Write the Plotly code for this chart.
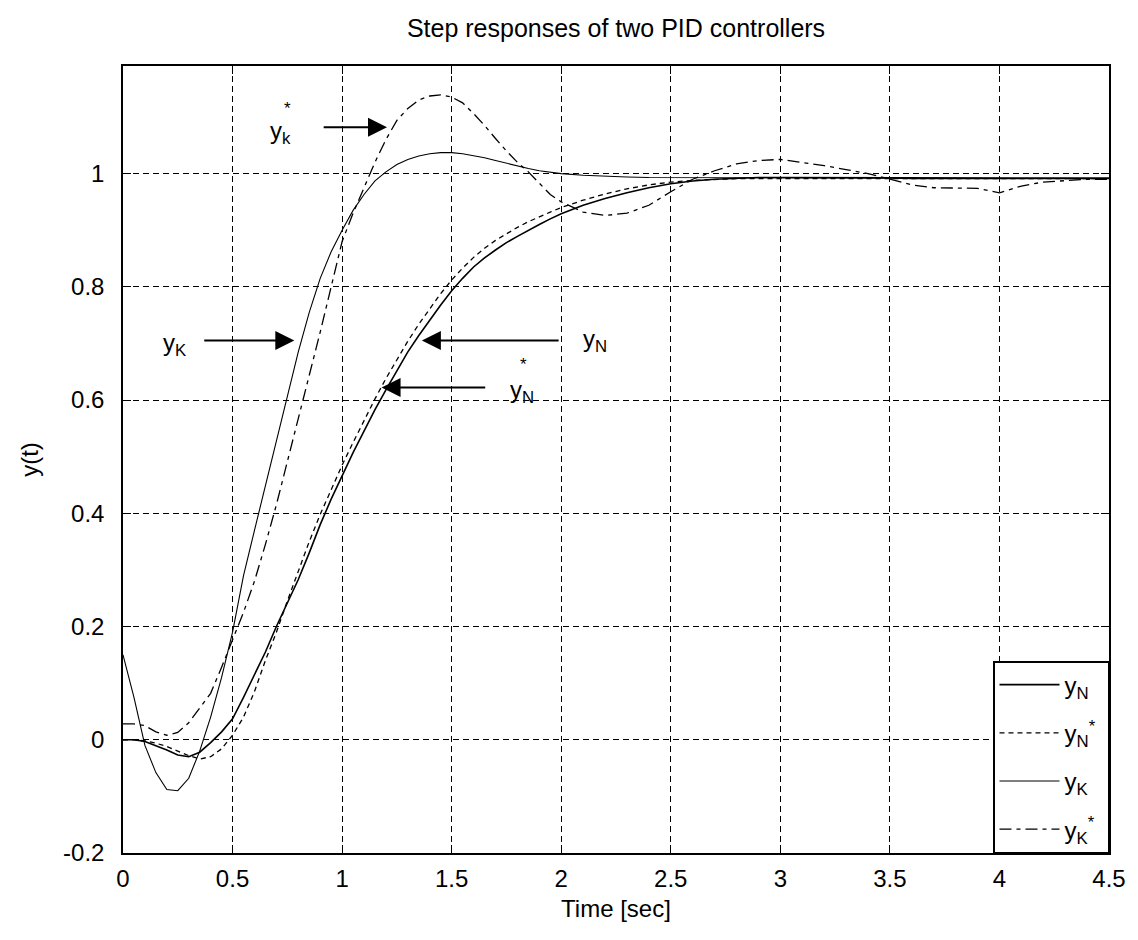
import plotly.graph_objects as go

# ---------------- data ----------------
time = [0, 0.05, 0.1, 0.15, 0.2, 0.25, 0.3, 0.35, 0.4, 0.45,
        0.5, 0.55, 0.6, 0.65, 0.7, 0.75, 0.8, 0.85, 0.9, 0.95,
        1.0, 1.05, 1.1, 1.15, 1.2, 1.25, 1.3, 1.35, 1.4, 1.45,
        1.5, 1.55, 1.6, 1.65, 1.7, 1.75, 1.8, 1.85, 1.9, 1.95,
        2.0, 2.1, 2.2, 2.3, 2.4, 2.5, 2.6, 2.7, 2.8, 2.9,
        3.0, 3.1, 3.2, 3.3, 3.4, 3.5, 3.6, 3.7, 3.8, 3.9,
        4.0, 4.1, 4.2, 4.3, 4.4, 4.5]

y_N = [0.0, 0.0, -0.003, -0.01, -0.018, -0.027, -0.03, -0.022, -0.005, 0.014,
       0.037, 0.075, 0.115, 0.155, 0.2, 0.24, 0.283, 0.33, 0.38, 0.425,
       0.467, 0.507, 0.545, 0.583, 0.618, 0.652, 0.685, 0.714, 0.742, 0.768,
       0.793, 0.815, 0.835, 0.851, 0.865, 0.878, 0.889, 0.9, 0.91, 0.92,
       0.929, 0.944, 0.956, 0.966, 0.975, 0.982, 0.987, 0.99, 0.992, 0.993,
       0.993, 0.993, 0.993, 0.993, 0.993, 0.992, 0.992, 0.992, 0.992, 0.992,
       0.992, 0.992, 0.992, 0.992, 0.992, 0.992]

y_N_star = [0.0, 0.0, -0.002, -0.006, -0.012, -0.02, -0.028, -0.034, -0.03, -0.016,
            0.008, 0.04, 0.085, 0.14, 0.19, 0.245, 0.298, 0.35, 0.398, 0.443,
            0.485, 0.525, 0.564, 0.602, 0.638, 0.672, 0.704, 0.734, 0.762, 0.788,
            0.812, 0.833, 0.852, 0.868, 0.882, 0.894, 0.905, 0.915, 0.924, 0.932,
            0.94, 0.953, 0.964, 0.973, 0.98, 0.985, 0.988, 0.99, 0.991, 0.991,
            0.991, 0.991, 0.991, 0.991, 0.991, 0.991, 0.991, 0.991, 0.991, 0.991,
            0.991, 0.991, 0.991, 0.991, 0.991, 0.991]

y_K = [0.15, 0.075, -0.01, -0.058, -0.088, -0.09, -0.068, -0.02, 0.04, 0.11,
       0.19, 0.29, 0.37, 0.45, 0.53, 0.61, 0.685, 0.755, 0.815, 0.862,
       0.9, 0.935, 0.963, 0.987, 1.003, 1.016, 1.025, 1.031, 1.035, 1.037,
       1.037, 1.035, 1.032, 1.028, 1.023, 1.018, 1.013, 1.009, 1.005, 1.002,
       1.0, 0.997, 0.995, 0.994, 0.993, 0.993, 0.993, 0.993, 0.993, 0.993,
       0.993, 0.993, 0.992, 0.992, 0.992, 0.992, 0.991, 0.991, 0.991, 0.991,
       0.991, 0.991, 0.991, 0.991, 0.991, 0.991]

y_K_star = [0.028, 0.028, 0.025, 0.014, 0.008, 0.013, 0.03, 0.055, 0.082, 0.128,
            0.175, 0.225, 0.28, 0.345, 0.415, 0.49, 0.565, 0.645, 0.72, 0.8,
            0.88, 0.93, 0.975, 1.02, 1.06, 1.094, 1.115, 1.13, 1.137, 1.139,
            1.135, 1.125, 1.106, 1.085, 1.062, 1.04, 1.02, 1.003, 0.983, 0.963,
            0.95, 0.932, 0.926, 0.93, 0.944, 0.968, 0.99, 1.005, 1.017, 1.023,
            1.025, 1.02, 1.014, 1.007, 1.0, 0.99, 0.98, 0.975, 0.974, 0.974,
            0.966, 0.978, 0.985, 0.988, 0.99, 0.99]

x_ticks = [0, 0.5, 1, 1.5, 2, 2.5, 3, 3.5, 4, 4.5]
x_tick_labels = ["0", "0.5", "1", "1.5", "2", "2.5", "3", "3.5", "4", "4.5"]
y_ticks = [-0.2, 0, 0.2, 0.4, 0.6, 0.8, 1]
y_tick_labels = ["-0.2", "0", "0.2", "0.4", "0.6", "0.8", "1"]

NB = "\u00a0"
series_names = ["y<sub>N</sub>" + NB * 2, "y<sub>N</sub><sup>*</sup>" + NB,
                "y<sub>K</sub>" + NB * 2, "y<sub>K</sub><sup>*</sup>" + NB]

# annotation labels: (text, x, y) and arrows: (tail_x, tail_y, head_x, head_y)
label_text = ["y<sub>k</sub>", "y<sub>K</sub>", "y<sub>N</sub>", "y<sub>N</sub>"]
label_x = [0.718, 0.236, 2.155, 1.823]
label_y = [1.072, 0.698, 0.706, 0.615]
star_x = [0.752, 1.83]
star_y = [1.115, 0.662]
arrow_tail_x = [0.909, 0.364, 1.995, 1.66]
arrow_tail_y = [1.082, 0.705, 0.705, 0.622]
arrow_head_x = [1.205, 0.782, 1.364, 1.18]
arrow_head_y = [1.082, 0.705, 0.705, 0.622]

FONT = "Liberation Sans, Arial, sans-serif"
FS = 24

fig = go.Figure()
styles = [dict(dash="solid", width=1.6),
          dict(dash="5px,4px", width=1.3),
          dict(dash="solid", width=1.1),
          dict(dash="12px,5px,4px,5px", width=1.3)]
for name, ys, st in zip(series_names, [y_N, y_N_star, y_K, y_K_star], styles):
    fig.add_trace(go.Scatter(x=time, y=ys, mode="lines", name=name,
                             legendgroup=name,
                             line=dict(color="black", **st)))

annotations = []
for t, x, y in zip(label_text, label_x, label_y):
    annotations.append(dict(x=x, y=y, xref="x", yref="y", text=t, showarrow=False,
                            font=dict(size=FS, family=FONT, color="black")))
for x, y in zip(star_x, star_y):
    annotations.append(dict(x=x, y=y, xref="x", yref="y", text="*", showarrow=False,
                            font=dict(size=17, family=FONT, color="black")))
for tx, ty, hx, hy in zip(arrow_tail_x, arrow_tail_y, arrow_head_x, arrow_head_y):
    annotations.append(dict(x=hx, y=hy, ax=tx, ay=ty, xref="x", yref="y",
                            axref="x", ayref="y", text="", showarrow=True,
                            arrowhead=2, arrowsize=1.9, arrowwidth=2,
                            arrowcolor="black"))

axis_common = dict(showline=True, linecolor="black", linewidth=1.5, mirror="ticks",
                   ticks="inside", ticklen=8, tickcolor="black", tickwidth=1,
                   showgrid=True, gridcolor="black", gridwidth=1, griddash="6px,4px",
                   zeroline=False,
                   tickfont=dict(size=FS, family=FONT, color="black"))

# page body has an 8px margin, so the figure is offset by (8, 8)
fig.update_layout(
    width=1130, height=932,
    margin=dict(l=115, r=24, t=58, b=87),
    paper_bgcolor="white", plot_bgcolor="white",
    font=dict(family=FONT, color="black"),
    title=dict(text="Step responses of two PID controllers", xref="paper", x=0.5,
               xanchor="center", y=0.9785, yanchor="middle",
               font=dict(size=25, family=FONT, color="black")),
    xaxis=dict(range=[0, 4.5], tickvals=x_ticks, ticktext=x_tick_labels,
               ticklabelstandoff=3,
               title=dict(text="Time [sec]", standoff=10,
                          font=dict(size=FS, family=FONT, color="black")),
               **axis_common),
    yaxis=dict(range=[-0.2, 1.19], tickvals=y_ticks, ticktext=y_tick_labels,
               ticklabelstandoff=12,
               title=dict(text="y(t)", standoff=18,
                          font=dict(size=FS, family=FONT, color="black")),
               **axis_common),
    legend=dict(x=1, y=0, xanchor="right", yanchor="bottom",
                bgcolor="white", bordercolor="black", borderwidth=1.5,
                font=dict(size=FS, family=FONT, color="black"),
                tracegroupgap=14, itemwidth=60),
    annotations=annotations,
    showlegend=True,
)

fig.write_html("out.html")
